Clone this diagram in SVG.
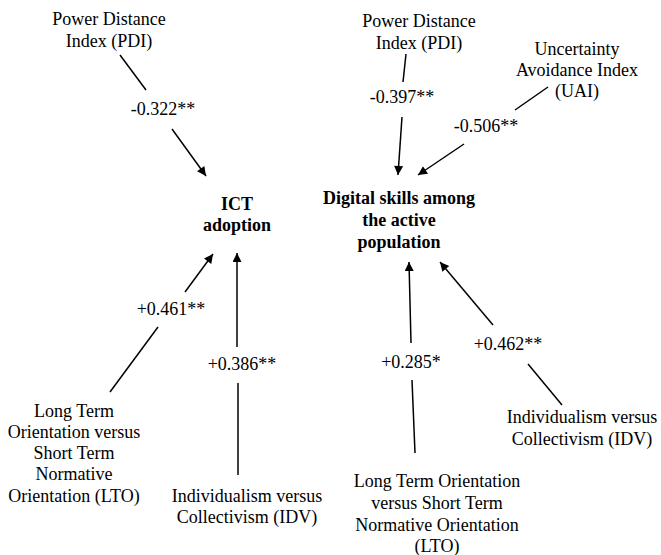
<svg xmlns="http://www.w3.org/2000/svg" width="661" height="555" viewBox="0 0 661 555">
<style>
text{font-family:"Liberation Serif","Times New Roman",serif;font-size:18px;fill:#000;text-anchor:middle}
.b{font-weight:bold}
.c line{stroke:#000;stroke-width:1.5}
</style>
<defs>
<marker id="ah" viewBox="0 0 10 10" refX="10" refY="5" markerWidth="11" markerHeight="9" markerUnits="userSpaceOnUse" orient="auto">
<path d="M0,0 L10,5 L0,10 z" fill="#000"/>
</marker>
</defs>
<rect width="661" height="555" fill="#fff"/>
<g id="pdi1"><text x="109" y="25">Power Distance</text><text x="109" y="47">Index (PDI)</text></g>
<g id="ict"><text class="b" x="237" y="210">ICT</text><text class="b" x="237" y="231">adoption</text></g>
<g id="lto1"><text x="74" y="417">Long Term</text><text x="74" y="438">Orientation versus</text><text x="74" y="459">Short Term</text><text x="74" y="480">Normative</text><text x="74" y="502">Orientation (LTO)</text></g>
<g id="idv1"><text x="247" y="502">Individualism versus</text><text x="247" y="523">Collectivism (IDV)</text></g>
<g id="pdi2"><text x="419" y="27">Power Distance</text><text x="419" y="49">Index (PDI)</text></g>
<g id="uai"><text x="577" y="55">Uncertainty</text><text x="577" y="76">Avoidance Index</text><text x="577" y="97">(UAI)</text></g>
<g id="dig"><text class="b" x="399" y="204">Digital skills among</text><text class="b" x="399" y="226">the active</text><text class="b" x="399" y="248">population</text></g>
<g id="idv2"><text x="582" y="423">Individualism versus</text><text x="582" y="445">Collectivism (IDV)</text></g>
<g id="lto2"><text x="437" y="487">Long Term Orientation</text><text x="437" y="509">versus Short Term</text><text x="437" y="531">Normative Orientation</text><text x="437" y="552">(LTO)</text></g>
<g id="connectors" class="c">
<line x1="120" y1="55" x2="146" y2="90"/>
<text x="163" y="115">-0.322**</text>
<line x1="172" y1="129" x2="206" y2="176" marker-end="url(#ah)"/>
<line x1="406" y1="54" x2="403" y2="82"/>
<text x="402" y="103">-0.397**</text>
<line x1="402" y1="117" x2="398" y2="175" marker-end="url(#ah)"/>
<line x1="548" y1="87" x2="515" y2="110"/>
<text x="486" y="132">-0.506**</text>
<line x1="464" y1="144" x2="418" y2="175" marker-end="url(#ah)"/>
<line x1="110" y1="392" x2="158" y2="327"/>
<text x="171" y="315">+0.461**</text>
<line x1="185" y1="292" x2="213" y2="254" marker-end="url(#ah)"/>
<line x1="238" y1="475" x2="238" y2="383"/>
<text x="242" y="370">+0.386**</text>
<line x1="237" y1="347" x2="237" y2="253" marker-end="url(#ah)"/>
<line x1="415" y1="453" x2="412" y2="380"/>
<text x="411" y="368">+0.285*</text>
<line x1="411" y1="343" x2="409" y2="262" marker-end="url(#ah)"/>
<line x1="562" y1="405" x2="528" y2="364"/>
<text x="508" y="350">+0.462**</text>
<line x1="493" y1="325" x2="440" y2="262" marker-end="url(#ah)"/>
</g>
</svg>
